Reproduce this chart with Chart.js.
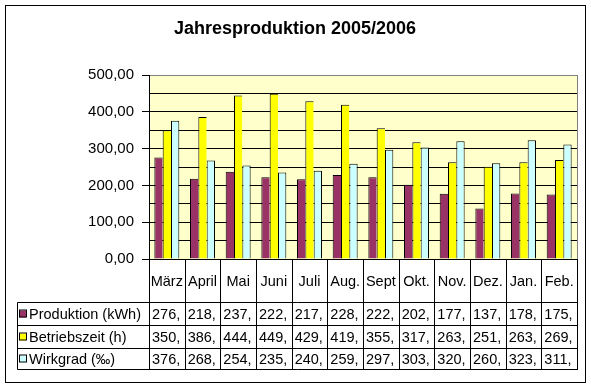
<!DOCTYPE html>
<html>
<head>
<meta charset="utf-8">
<script src="https://cdn.jsdelivr.net/npm/chart.js@4/dist/chart.umd.min.js"></script>
<style>
  html, body { margin: 0; padding: 0; background: #fff; }
  canvas { display: block; }
</style>
</head>
<body>
<canvas id="chart" width="591" height="386"></canvas>
<script>
const months = ["März", "April", "Mai", "Juni", "Juli", "Aug.", "Sept", "Okt.", "Nov.", "Dez.", "Jan.", "Feb."];
const produktion = [276, 218, 237, 222, 217, 228, 222, 202, 177, 137, 178, 175];
const betriebszeit = [350, 386, 444, 449, 429, 419, 355, 317, 263, 251, 263, 269];
const wirkgrad = [376, 268, 254, 235, 240, 259, 297, 303, 320, 260, 323, 311];
const seriesNames = ["Produktion (kWh)", "Betriebszeit (h)", "Wirkgrad (‰)"];
const seriesColors = ["#993366", "#FFFF00", "#CCFFFF"];
const yTicks = [0, 100, 200, 300, 400, 500];

const FONT = "Arial, 'Liberation Sans', sans-serif";

// background, plot frame, data table, title and outer border
const excelLook = {
  id: "excelLook",
  beforeDraw(chart) {
    const { ctx, chartArea: a } = chart;
    ctx.save();
    ctx.fillStyle = "#fff";
    ctx.fillRect(0, 0, chart.width, chart.height);
    ctx.fillStyle = "#FFFFCC";
    ctx.fillRect(a.left, a.top, a.right - a.left, a.bottom - a.top);
    ctx.restore();
  },
  afterDraw(chart) {
    const { ctx, chartArea: a } = chart;
    const x = chart.scales.x;
    const n = months.length;
    const w = (a.right - a.left) / n;
    const rows = [302, 325, 348, 369];
    const tableLeft = 17;
    const data = [produktion, betriebszeit, wirkgrad];

    ctx.save();
    ctx.lineWidth = 1;

    // grey right edge of plot area
    ctx.strokeStyle = "#808080";
    ctx.beginPath();
    ctx.moveTo(Math.round(a.right) + 0.5, a.top);
    ctx.lineTo(Math.round(a.right) + 0.5, a.bottom);
    ctx.stroke();

    // table grid
    ctx.strokeStyle = "#000";
    ctx.beginPath();
    for (let i = 0; i <= n; i++) {
      const px = Math.round(x.getPixelForValue(i) - w / 2) + 0.5;
      ctx.moveTo(px, a.bottom);
      ctx.lineTo(px, rows[3] + 0.5);
    }
    rows.forEach(r => {
      ctx.moveTo(tableLeft + 0.5, r + 0.5);
      ctx.lineTo(Math.round(a.right) + 1, r + 0.5);
    });
    ctx.moveTo(tableLeft + 0.5, rows[0] + 0.5);
    ctx.lineTo(tableLeft + 0.5, rows[3] + 0.5);
    ctx.stroke();

    // category labels
    ctx.fillStyle = "#000";
    ctx.font = "14.5px " + FONT;
    ctx.textBaseline = "middle";
    ctx.textAlign = "center";
    months.forEach((m, i) => ctx.fillText(m, x.getPixelForValue(i), 282));

    // series rows
    for (let s = 0; s < 3; s++) {
      const cy = (rows[s] + rows[s + 1]) / 2 + 1;
      ctx.fillStyle = seriesColors[s];
      ctx.fillRect(19, cy - 4, 7, 7);
      ctx.strokeStyle = "#000";
      ctx.strokeRect(19.5, cy - 4.5, 7, 7);
      ctx.fillStyle = "#000";
      ctx.textAlign = "left";
      ctx.fillText(seriesNames[s], 29, cy);
      data[s].forEach((v, i) => {
        ctx.fillText(Math.trunc(v) + ",", x.getPixelForValue(i) - w / 2 + 3, cy);
      });
    }

    // title
    ctx.font = "bold 18px " + FONT;
    ctx.textAlign = "center";
    ctx.fillText("Jahresproduktion 2005/2006", 295, 29);

    // outer frame
    ctx.strokeRect(5.5, 5.5, 580, 377);
    ctx.restore();
  }
};

new Chart(document.getElementById("chart"), {
  type: "bar",
  data: {
    labels: months,
    datasets: [produktion, betriebszeit, wirkgrad].map((d, i) => ({
      label: seriesNames[i],
      data: d,
      backgroundColor: seriesColors[i],
      borderColor: "#000",
      // neighbouring bars share one outline, as in the Excel original
      borderWidth: { top: 1, left: 1, right: i === 2 ? 1 : 0, bottom: 0 },
      borderSkipped: false,
      categoryPercentage: 0.7,
      barPercentage: 1.0
    }))
  },
  options: {
    responsive: false,
    devicePixelRatio: 1,
    animation: false,
    layout: { padding: { left: 0, top: 75, right: 14, bottom: 127 } },
    plugins: {
      legend: { display: false },
      title: { display: false },
      tooltip: { enabled: false }
    },
    scales: {
      x: { display: false },
      y: {
        min: 0,
        max: 500,
        afterFit(scale) { scale.width = 149; },
        ticks: {
          stepSize: 50,
          autoSkip: false,
          color: "#000",
          padding: 8,
          font: { family: FONT, size: 15 },
          callback: v => yTicks.includes(v) ? v.toFixed(2).replace(".", ",") : ""
        },
        grid: {
          color: c => c.tick && c.tick.value === 500 ? "#808080" : "#000",
          tickColor: c => c.tick && c.tick.value % 100 === 0 ? "#000" : "rgba(0,0,0,0)",
          tickLength: 7,
          lineWidth: 1
        },
        border: { color: "#000" }
      }
    }
  },
  plugins: [excelLook]
});
</script>
</body>
</html>
